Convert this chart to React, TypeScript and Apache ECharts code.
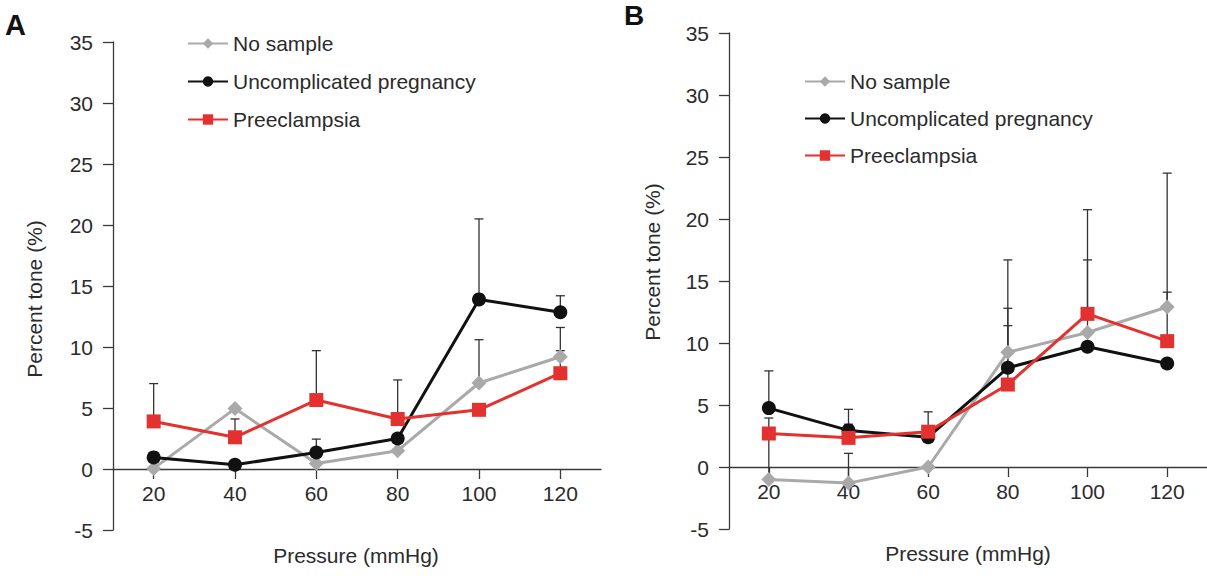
import React, { useEffect, useRef } from "react";
import * as echarts from "echarts";

const pressures = [20, 40, 60, 80, 100, 120];
const seriesNames = ["No sample", "Uncomplicated pregnancy", "Preeclampsia"];

// Panel A
const aNoSample = [0.05, 4.95, 0.45, 1.5, 7.05, 9.2];
const aUncomp = [0.95, 0.35, 1.35, 2.5, 13.9, 12.85];
const aPre = [3.9, 2.6, 5.65, 4.1, 4.85, 7.85];
const aNoSampleUpper = [null, null, null, null, 10.6, 11.6];
const aUncompUpper = [null, null, 2.45, null, 20.5, 14.2];
const aPreUpper = [7.0, 4.1, 9.7, 7.3, null, 9.7];

// Panel B
const bNoSample = [-1.0, -1.3, 0, 9.25, 10.85, 12.9];
const bUncomp = [4.75, 2.95, 2.4, 8.0, 9.7, 8.35];
const bPre = [2.7, 2.35, 2.85, 6.65, 12.35, 10.15];
const bNoSampleUpper = [3.95, 1.1, null, 16.7, 16.7, 23.7];
const bUncompUpper = [7.75, 4.65, 4.45, 12.8, null, null];
const bPreUpper = [null, 3.45, null, 11.4, 20.75, 14.1];

const yMin = -5;
const yMax = 35;
const yStep = 5;

const FONT = "Liberation Sans, Arial, sans-serif";
const TXT = "#2b2b2b";
const AX = "#3a3a3a";
const colors = ["#a9a9a9", "#111111", "#e2312e"];
const symbols = ["diamond", "circle", "rect"];
const symbolSizes = [15, 14, 14];

function pairs(vals: number[]) {
  return pressures.map((p, i) => [p, vals[i]]);
}
function errPairs(vals: number[], uppers: (number | null)[]) {
  const out: number[][] = [];
  pressures.forEach((p, i) => {
    const u = uppers[i];
    if (u !== null && u !== undefined) out.push([p, vals[i], u]);
  });
  return out;
}

const errRender = (params: any, api: any) => {
  const x = api.value(0);
  const p0 = api.coord([x, api.value(1)]);
  const p1 = api.coord([x, api.value(2)]);
  const style = { stroke: "#333", lineWidth: 1.3 };
  return {
    type: "group",
    children: [
      { type: "line", shape: { x1: p0[0], y1: p0[1], x2: p1[0], y2: p1[1] }, style },
      { type: "line", shape: { x1: p1[0] - 4.5, y1: p1[1], x2: p1[0] + 4.5, y2: p1[1] }, style },
    ],
  };
};

export default function App() {
  const ref = useRef<HTMLDivElement>(null);
  useEffect(() => {
    if (!ref.current) return;
    const chart = echarts.init(ref.current, null, { renderer: "svg" });

    const grids = [
      { left: 113, top: 42, width: 488, height: 488 },
      { left: 729, top: 33, width: 483, height: 496 },
    ];

    const xAxis = [0, 1].map((g) => ({
      type: "value",
      gridIndex: g,
      min: 10,
      max: 130,
      position: "bottom",
      // lift the axis from the bottom edge (y = -5) to y = 0
      offset: -(grids[g].height * (0 - yMin)) / (yMax - yMin),
      axisLine: { onZero: false, lineStyle: { color: AX, width: 1.3 } },
      axisTick: { length: 10, lineStyle: { color: AX, width: 1.3 }, customValues: pressures },
      axisLabel: { fontSize: 21, fontFamily: FONT, color: TXT, margin: 14, customValues: pressures },
      splitLine: { show: false },
    }));
    const yAxis = [0, 1].map((g) => ({
      type: "value",
      gridIndex: g,
      min: yMin,
      max: yMax,
      interval: yStep,
      axisLine: { show: true, onZero: false, lineStyle: { color: AX, width: 1.3 } },
      axisTick: { show: true, length: 10, lineStyle: { color: AX, width: 1.3 } },
      axisLabel: { fontSize: 21, fontFamily: FONT, color: TXT, margin: 20 },
      splitLine: { show: false },
    }));

    const panels = [
      { means: [aNoSample, aUncomp, aPre], uppers: [aNoSampleUpper, aUncompUpper, aPreUpper] },
      { means: [bNoSample, bUncomp, bPre], uppers: [bNoSampleUpper, bUncompUpper, bPreUpper] },
    ];

    const series: any[] = [];
    panels.forEach((pn, g) => {
      pn.means.forEach((m, k) => {
        series.push({
          type: "custom",
          name: seriesNames[k] + " SD",
          xAxisIndex: g,
          yAxisIndex: g,
          renderItem: errRender,
          data: errPairs(m, pn.uppers[k]),
          z: 1,
          silent: true,
        });
      });
    });
    panels.forEach((pn, g) => {
      pn.means.forEach((m, k) => {
        series.push({
          type: "line",
          name: seriesNames[k],
          xAxisIndex: g,
          yAxisIndex: g,
          data: pairs(m),
          symbol: symbols[k],
          symbolSize: symbolSizes[k],
          showAllSymbol: true,
          lineStyle: { color: colors[k], width: 3 },
          itemStyle: { color: colors[k] },
          z: 3 + k,
        });
      });
    });

    const legendCommon = {
      orient: "vertical",
      data: seriesNames,
      itemWidth: 40,
      itemHeight: 13,
      textStyle: { fontSize: 21, fontFamily: FONT, color: TXT },
      lineStyle: { width: 2 },
      selectedMode: false,
    };

    chart.setOption({
      animation: false,
      backgroundColor: "#ffffff",
      grid: grids,
      xAxis,
      yAxis,
      legend: [
        { ...legendCommon, left: 182, top: 28, itemGap: 17 },
        { ...legendCommon, left: 799, top: 66, itemGap: 16 },
      ],
      series,
      graphic: [
        { type: "text", left: 5, top: 10, style: { text: "A", fontSize: 29, fontWeight: "bold", fontFamily: FONT, fill: "#111" } },
        { type: "text", left: 624, top: 1, style: { text: "B", fontSize: 28, fontWeight: "bold", fontFamily: FONT, fill: "#111" } },
        { type: "text", x: 34, y: 299, rotation: Math.PI / 2, style: { text: "Percent tone (%)", fontSize: 21, fontFamily: FONT, fill: TXT, align: "center", verticalAlign: "middle" } },
        { type: "text", x: 652, y: 262, rotation: Math.PI / 2, style: { text: "Percent tone (%)", fontSize: 21, fontFamily: FONT, fill: TXT, align: "center", verticalAlign: "middle" } },
        { type: "text", x: 356, y: 555, style: { text: "Pressure (mmHg)", fontSize: 21, fontFamily: FONT, fill: TXT, align: "center", verticalAlign: "middle" } },
        { type: "text", x: 968, y: 553, style: { text: "Pressure (mmHg)", fontSize: 21, fontFamily: FONT, fill: TXT, align: "center", verticalAlign: "middle" } },
      ],
    });
    return () => chart.dispose();
  }, []);
  return (
    <div
      ref={ref}
      style={{ position: "fixed", left: 0, top: 0, width: 1207, height: 576, background: "#fff" }}
    />
  );
}
